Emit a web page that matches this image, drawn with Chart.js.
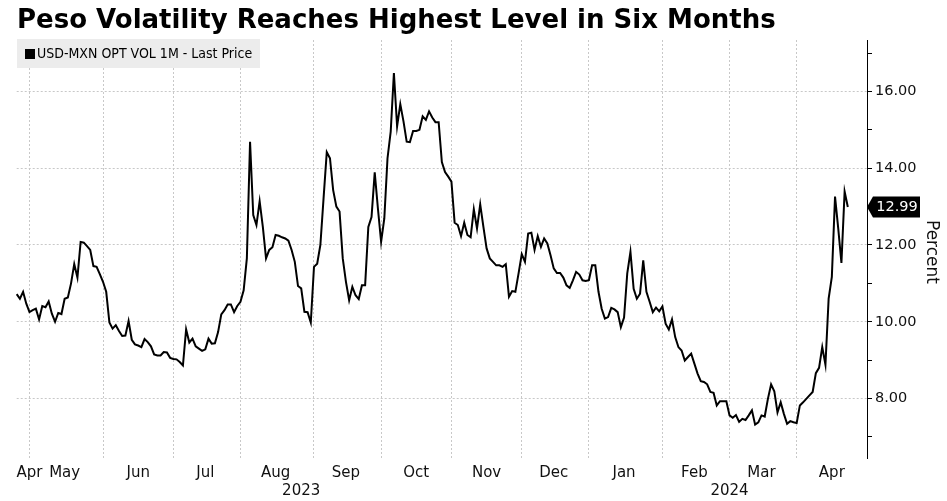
<!DOCTYPE html>
<html>
<head>
<meta charset="utf-8">
<script src="https://cdn.jsdelivr.net/npm/chart.js@4.4.1/dist/chart.umd.min.js"></script>
<style>
  html, body { margin: 0; padding: 0; background: #fff; }
  #wrap { position: relative; width: 947px; height: 501px; }
</style>
</head>
<body>
<div id="wrap"><canvas id="vol-chart"></canvas></div>
<script>
// USD-MXN 1M implied vol, one point per weekday from 2023-04-25
var firstDay = '2023-04-25';
var dayCount = 267; // axis runs a few days past the last print
var seriesName = 'USD-MXN OPT VOL 1M - Last Price';
var titleText = 'Peso Volatility Reaches Highest Level in Six Months';
var monthNames = ['Jan', 'Feb', 'Mar', 'Apr', 'May', 'Jun', 'Jul', 'Aug', 'Sep', 'Oct', 'Nov', 'Dec'];
var yTicks = [7, 8, 9, 10, 11, 12, 13, 14, 15, 16, 17];

var volValues = [
    10.72, 10.60, 10.78, 10.47, 10.25, 10.30, 10.34, 10.06, 10.41, 10.38,
    10.53, 10.21, 10.00, 10.23, 10.20, 10.60, 10.63, 11.00, 11.50, 11.15,
    12.08, 12.06, 11.97, 11.87, 11.45, 11.43, 11.24, 11.04, 10.78, 9.98,
    9.82, 9.91, 9.76, 9.63, 9.64, 10.02, 9.53, 9.41, 9.38, 9.34,
    9.55, 9.47, 9.36, 9.15, 9.12, 9.12, 9.21, 9.20, 9.06, 9.03,
    9.02, 8.95, 8.86, 9.80, 9.46, 9.56, 9.36, 9.30, 9.24, 9.28,
    9.56, 9.43, 9.44, 9.73, 10.19, 10.30, 10.45, 10.45, 10.25, 10.41,
    10.52, 10.82, 11.65, 14.69, 12.78, 12.52, 13.14, 12.47, 11.65, 11.87,
    11.94, 12.26, 12.24, 12.20, 12.17, 12.11, 11.87, 11.56, 10.93, 10.87,
    10.26, 10.25, 9.98, 11.43, 11.51, 12.00, 13.22, 14.42, 14.26, 13.43,
    13.00, 12.87, 11.65, 11.04, 10.56, 10.91, 10.69, 10.59, 10.95, 10.95,
    12.47, 12.73, 13.89, 12.95, 12.08, 12.69, 14.26, 14.95, 16.48, 15.09,
    15.67, 15.22, 14.69, 14.68, 14.97, 14.97, 15.00, 15.35, 15.26, 15.48,
    15.32, 15.20, 15.20, 14.16, 13.90, 13.78, 13.65, 12.58, 12.52, 12.23,
    12.58, 12.26, 12.20, 12.93, 12.43, 13.06, 12.47, 11.91, 11.65, 11.56,
    11.47, 11.47, 11.43, 11.50, 10.65, 10.80, 10.78, 11.26, 11.76, 11.56,
    12.30, 12.32, 11.87, 12.23, 11.95, 12.17, 12.04, 11.73, 11.39, 11.27,
    11.27, 11.15, 10.95, 10.88, 11.08, 11.30, 11.23, 11.08, 11.06, 11.08,
    11.47, 11.47, 10.78, 10.34, 10.08, 10.12, 10.36, 10.32, 10.25, 9.86,
    10.11, 11.26, 11.82, 10.86, 10.60, 10.73, 11.60, 10.78, 10.52, 10.25,
    10.37, 10.27, 10.40, 9.95, 9.80, 10.06, 9.60, 9.34, 9.25, 8.99,
    9.08, 9.17, 8.91, 8.65, 8.45, 8.43, 8.37, 8.17, 8.15, 7.82,
    7.93, 7.93, 7.93, 7.56, 7.50, 7.57, 7.39, 7.47, 7.44, 7.56,
    7.69, 7.32, 7.38, 7.56, 7.53, 7.99, 8.37, 8.19, 7.64, 7.90,
    7.60, 7.34, 7.41, 7.38, 7.36, 7.82, 7.90, 7.99, 8.08, 8.17,
    8.66, 8.80, 9.34, 8.88, 10.60, 11.17, 13.26, 12.43, 11.53, 13.39,
    12.99
];

// weekday categories
var dayLabels = [];
var d = new Date(firstDay + 'T00:00:00Z');
while (dayLabels.length < dayCount) {
    var wd = d.getUTCDay();
    if (wd !== 0 && wd !== 6) dayLabels.push(d.toISOString().slice(0, 10));
    d.setUTCDate(d.getUTCDate() + 1);
}

// month gridlines at first weekday, month names in the middle of each month,
// year in the middle of each year
var monthStart = {};
var monthLabelAt = {};
var yearLabelAt = {};
(function () {
    var groups = [], years = [];
    dayLabels.forEach(function (s, i) {
        var ym = s.slice(0, 7), yr = s.slice(0, 4);
        if (!groups.length || groups[groups.length - 1].key !== ym) {
            groups.push({key: ym, first: i, last: i});
            if (i > 0 && i < dayCount - 1) monthStart[i] = true;
        } else groups[groups.length - 1].last = i;
        if (!years.length || years[years.length - 1].key !== yr) years.push({key: yr, first: i, last: i});
        else years[years.length - 1].last = i;
    });
    groups.forEach(function (g) {
        if (g.last - g.first < 2) return;
        var mid = Math.round((g.first + g.last) / 2);
        if (g.first === 0) mid = Math.max(mid, 4); // keep the partial first month inside the plot
        monthLabelAt[mid] = monthNames[parseInt(g.key.slice(5), 10) - 1];
    });
    years.forEach(function (y) {
        yearLabelAt[Math.round((y.first + y.last) / 2)] = y.key;
    });
})();

var gridGrey = '#c8c8c8';
var tickFont = {family: '"DejaVu Sans", sans-serif', size: 15};

var decor = {
    id: 'decor',
    afterDraw: function (chart) {
        var ctx = chart.ctx, ys = chart.scales.y, area = chart.chartArea;
        ctx.save();

        // headline
        ctx.fillStyle = '#000';
        ctx.font = 'bold 26px "DejaVu Sans", sans-serif';
        ctx.textBaseline = 'alphabetic';
        ctx.textAlign = 'left';
        ctx.fillText(titleText, 17, 28);

        // legend chip
        ctx.fillStyle = '#ececec';
        ctx.fillRect(17, 39, 243, 29);
        ctx.fillStyle = '#000';
        ctx.fillRect(25, 49, 10, 10);
        ctx.font = '14px "DejaVu Sans Condensed", "DejaVu Sans", sans-serif';
        ctx.textBaseline = 'middle';
        ctx.fillText(seriesName, 37, 54.5);

        // axis title
        ctx.save();
        ctx.translate(931, 252);
        ctx.rotate(Math.PI / 2);
        ctx.textAlign = 'center';
        ctx.font = '17px "DejaVu Sans", sans-serif';
        ctx.fillStyle = '#111';
        ctx.fillText('Percent', 0, 0);
        ctx.restore();

        // last value tag
        var last = volValues[volValues.length - 1];
        var cy = ys.getPixelForValue(last);
        var x0 = area.right;
        ctx.fillStyle = '#000';
        ctx.beginPath();
        ctx.moveTo(x0, cy);
        ctx.lineTo(x0 + 6, cy - 10.5);
        ctx.lineTo(x0 + 53, cy - 10.5);
        ctx.lineTo(x0 + 53, cy + 10.5);
        ctx.lineTo(x0 + 6, cy + 10.5);
        ctx.closePath();
        ctx.fill();
        ctx.fillStyle = '#fff';
        ctx.font = '14.5px "DejaVu Sans", sans-serif';
        ctx.textAlign = 'center';
        ctx.fillText(last.toFixed(2), x0 + 30, cy + 0.5);

        ctx.restore();
    }
};

new Chart(document.getElementById('vol-chart'), {
    type: 'line',
    data: {
        labels: dayLabels,
        datasets: [
            {
                label: seriesName,
                data: volValues,
                borderColor: '#000',
                borderWidth: 2,
                pointRadius: 0,
                tension: 0,
                fill: false,
                xAxisID: 'x',
                yAxisID: 'y'
            }
        ]
    },
    options: {
        responsive: true,
        maintainAspectRatio: false,
        animation: false,
        layout: {padding: {left: 16.7, right: 0, top: 40, bottom: 1}},
        plugins: {
            legend: {display: false},
            title: {display: false},
            tooltip: {enabled: false}
        },
        scales: {
            x: {
                type: 'category',
                position: 'bottom',
                offset: false,
                grid: {
                    color: function (c) { return monthStart[c.index] ? gridGrey : 'transparent'; },
                    lineWidth: 1,
                    drawTicks: false
                },
                border: {display: false, dash: [2, 2]},
                ticks: {
                    autoSkip: false,
                    maxRotation: 0,
                    minRotation: 0,
                    padding: 6,
                    color: '#111',
                    font: tickFont,
                    callback: function (v, i) { return monthLabelAt[i] || ''; }
                },
                afterFit: function (s) { s.height = 24; }
            },
            x2: {
                type: 'category',
                position: 'bottom',
                offset: false,
                grid: {display: false, drawTicks: false},
                border: {display: false},
                ticks: {
                    autoSkip: false,
                    maxRotation: 0,
                    minRotation: 0,
                    padding: 0,
                    color: '#111',
                    font: tickFont,
                    callback: function (v, i) { return yearLabelAt[i] || ''; }
                },
                afterFit: function (s) { s.height = 18; }
            },
            y: {
                position: 'right',
                min: 6.45,
                max: 17.34,
                afterBuildTicks: function (s) {
                    s.ticks = yTicks.map(function (v) { return {value: v}; });
                },
                afterFit: function (s) { s.width = 80; },
                grid: {
                    color: function (c) { return c.tick && c.tick.value % 2 === 0 ? gridGrey : 'transparent'; },
                    lineWidth: 1,
                    tickColor: '#000',
                    tickLength: 5,
                    tickBorderDash: []
                },
                border: {display: true, color: '#000', width: 1, dash: [2, 2]},
                ticks: {
                    padding: 3,
                    color: '#111',
                    font: {family: '"DejaVu Sans", sans-serif', size: 14.5},
                    callback: function (v) { return v % 2 === 0 ? v.toFixed(2) : ''; }
                }
            }
        }
    },
    plugins: [decor]
});
</script>
</body>
</html>
